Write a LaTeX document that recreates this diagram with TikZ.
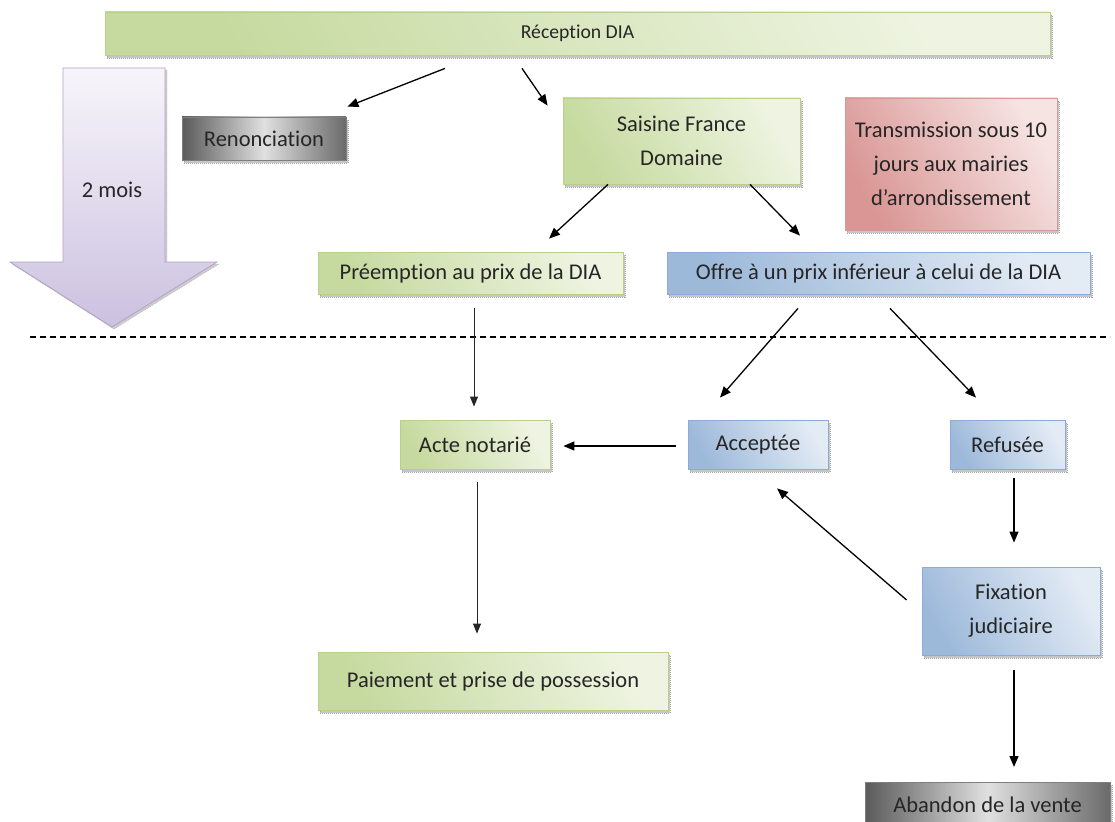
\documentclass[tikz,border=0pt]{standalone}
\usepackage{fontspec}
\setmainfont[Ligatures=NoCommon]{Carlito}
\usetikzlibrary{shadows,calc,arrows.meta}
\definecolor{greenD}{HTML}{C6DA9F}
\definecolor{greenL}{HTML}{EEF4E1}
\definecolor{greenB}{HTML}{B9D08A}
\definecolor{blueD}{HTML}{9DB9DA}
\definecolor{blueL}{HTML}{E3EBF5}
\definecolor{blueB}{HTML}{8EAADB}
\definecolor{redD}{HTML}{D99694}
\definecolor{redL}{HTML}{F6E4E3}
\definecolor{redB}{HTML}{D59A98}
\definecolor{grayD}{HTML}{5A5A5A}
\definecolor{grayL}{HTML}{E0E0E0}
\definecolor{grayB}{HTML}{7F7F7F}
\definecolor{purD}{HTML}{CCC1E0}
\definecolor{purL}{HTML}{F7F5FB}
\definecolor{purB}{HTML}{B3A2C7}
\definecolor{txt}{HTML}{262626}
\tikzset{
  box/.style={rectangle, inner sep=0pt, line width=0.8pt, text=txt,
    align=center, font=\fontsize{22.5}{34}\selectfont,
    general shadow={fill=gray!45, draw=gray!70, dash pattern=on 1pt off 1pt,
      shadow xshift=2pt, shadow yshift=-3pt}},
  gbox/.style={box, draw=greenB, left color=greenD, right color=greenL, shading angle=120},
  bbox/.style={box, draw=blueB, left color=blueD, right color=blueL, shading angle=120},
  rbox/.style={box, draw=redB, left color=redD, right color=redL, shading angle=120},
  kbox/.style={box, draw=grayB, left color=grayD, right color=grayD!90, middle color=grayL},
  arr/.style={-{Triangle[length=11pt,width=9pt]}, line width=1.3pt, black},
  garr/.style={-{Triangle[length=10pt,width=8pt]}, line width=0.9pt, black!85},
}
\begin{document}
\begin{tikzpicture}[x=1pt,y=-1pt]
\useasboundingbox (0,0) rectangle (1115,821);
% big time arrow
\path[draw=purB, line width=0.8pt, top color=purL, bottom color=purD,
  general shadow={fill=gray!40, draw=gray!60, dash pattern=on 1pt off 1pt, shadow xshift=2pt, shadow yshift=-2pt}]
  (63,68) -- (165,68) -- (165,262) -- (217,262) -- (112,327) -- (10,262) -- (63,262) -- cycle;
\node[text=txt, font=\fontsize{22.5}{34}\selectfont] (mois) at (112,190) {2 mois};
% dashed separator
\coordinate (dl) at (30,337);
\coordinate (dr) at (1110,337);
\draw[line width=1.3pt, dash pattern=on 6pt off 4pt] (dl) -- (dr);
% nodes
\node[gbox, minimum width=945pt, minimum height=43pt, font=\fontsize{19.7}{30}\selectfont] (rec) at (577.5,33.5) {Réception DIA};
\node[kbox, minimum width=164pt, minimum height=43pt] (ren) at (264,138.5) {Renonciation};
\node[gbox, minimum width=237pt, minimum height=86pt] (sai) at (681.5,141) {Saisine France\\Domaine};
\node[rbox, minimum width=212pt, minimum height=132pt] (tra) at (951,164) {Transmission sous 10\\jours aux mairies\\d’arrondissement};
\node[gbox, minimum width=305pt, minimum height=42pt] (pre) at (470.5,273) {Préemption au prix de la DIA};
\node[bbox, minimum width=423pt, minimum height=42pt] (off) at (878.5,273) {Offre à un prix inférieur à celui de la DIA};
\node[gbox, minimum width=150pt, minimum height=49pt] (act) at (475,444.5) {Acte notarié};
\node[bbox, minimum width=140pt, minimum height=49pt] (acc) at (758,444.5) {Acceptée};
\node[bbox, minimum width=115pt, minimum height=49pt] (ref) at (1007.5,444.5) {Refusée};
\node[bbox, minimum width=178pt, minimum height=88pt] (fix) at (1011,611) {Fixation\\judiciaire};
\node[gbox, minimum width=350pt, minimum height=58pt] (pai) at (493,681) {Paiement et prise de possession};
\node[kbox, minimum width=245pt, minimum height=44pt, anchor=north] (aba) at (987.5,782) {Abandon de la vente};
% connectors
\draw[arr] ($(rec.south)+(-132.5,13)$) -- ($(ren.north east)+(1,-10)$);
\draw[arr] ($(rec.south)+(-55.5,13)$) -- ($(sai.north west)+(-15,8)$);
\draw[arr] ($(sai.south)+(-73.5,0)$) -- ($(pre.north)+(78.5,-13)$);
\draw[arr] ($(sai.south)+(68.5,0)$) -- ($(off.north)+(-78.5,-16)$);
\draw[arr] ($(off.south)+(-80.5,14)$) -- ($(acc.north)+(-38,-22)$);
\draw[arr] ($(off.south)+(11.5,14)$) -- ($(ref.north)+(-31.5,-22)$);
\draw[garr] ($(pre.south)+(3.5,14)$) -- ($(act.north)+(-1,-13)$);
\draw[arr] ($(acc.west)+(-12,1.5)$) -- ($(act.east)+(13,1.5)$);
\draw[garr] ($(act.south)+(2,13)$) -- ($(pai.north)+(-16,-18)$);
\draw[arr] ($(ref.south)+(6.5,9)$) -- ($(fix.north)+(3,-24)$);
\draw[arr] ($(fix.west)+(-15,-11)$) -- ($(acc.south)+(19,19)$);
\draw[arr] ($(fix.south)+(3,15)$) -- ($(aba.north)+(26.5,-15)$);
\end{tikzpicture}
\end{document}
